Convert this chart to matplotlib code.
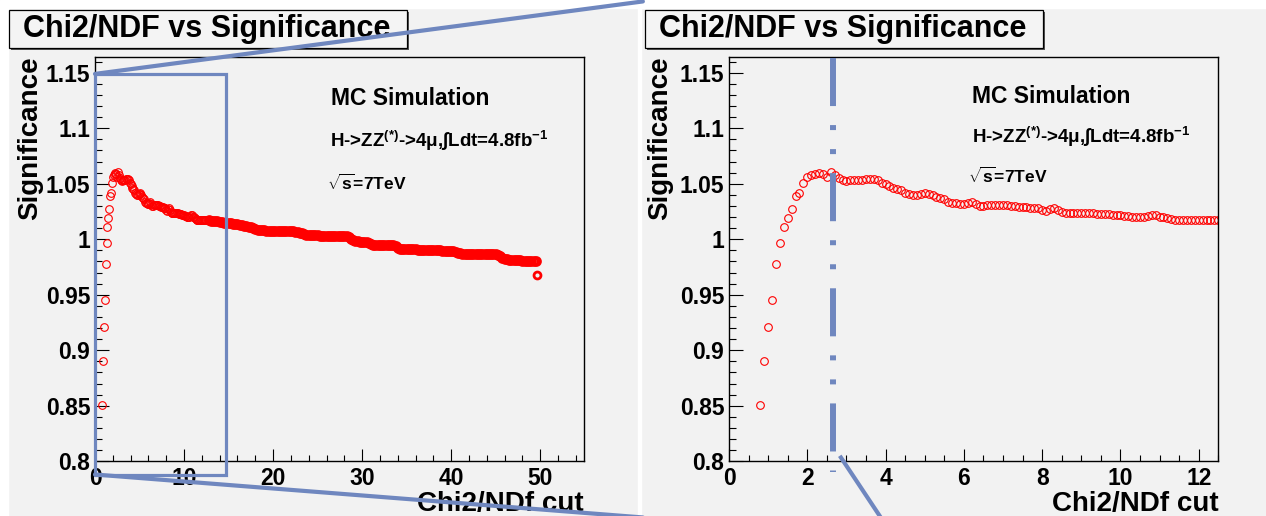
import numpy as np
import matplotlib
matplotlib.use('Agg')
import matplotlib.pyplot as plt
from matplotlib.patches import Rectangle, ConnectionPatch
from matplotlib.ticker import MultipleLocator, FuncFormatter

plt.rcParams['font.family'] = ['Liberation Sans', 'DejaVu Sans']
plt.rcParams['font.weight'] = 'bold'
plt.rcParams['axes.labelweight'] = 'bold'
plt.rcParams['mathtext.fontset'] = 'custom'
plt.rcParams['mathtext.rm'] = 'Liberation Sans:bold'
plt.rcParams['mathtext.it'] = 'Liberation Sans:italic:bold'
plt.rcParams['mathtext.bf'] = 'Liberation Sans:bold'
plt.rcParams['mathtext.default'] = 'regular'

# fine scan of the chi2/ndf cut (step 0.1)
cut_fine = np.round(np.arange(0.8, 12.55, 0.1), 2)
sig_fine = [
    0.851, 0.890, 0.921, 0.945, 0.978, 0.997, 1.011, 1.019, 1.027, 1.039,
    1.042, 1.051, 1.056, 1.058, 1.059, 1.0595, 1.059, 1.056, 1.061, 1.058,
    1.055, 1.053, 1.0525, 1.053, 1.053, 1.053, 1.0535, 1.054, 1.054, 1.054,
    1.053, 1.051, 1.050, 1.048, 1.046, 1.045, 1.044, 1.042, 1.041, 1.040,
    1.040, 1.041, 1.042, 1.041, 1.040, 1.038, 1.037, 1.036, 1.034, 1.033,
    1.0325, 1.032, 1.032, 1.033, 1.034, 1.032, 1.030, 1.030, 1.031, 1.031,
    1.031, 1.031, 1.031, 1.0305, 1.030, 1.030, 1.0295, 1.029, 1.029, 1.0285,
    1.028, 1.028, 1.026, 1.0255, 1.027, 1.028, 1.026, 1.0245, 1.024, 1.024,
    1.024, 1.024, 1.024, 1.024, 1.024, 1.0235, 1.023, 1.023, 1.023, 1.0225,
    1.022, 1.022, 1.022, 1.021, 1.021, 1.0205, 1.0205, 1.0205, 1.0205, 1.021,
    1.022, 1.0215, 1.0205, 1.020, 1.019, 1.018, 1.0175, 1.0175, 1.0175, 1.0175,
    1.0175, 1.0175, 1.0175, 1.0175, 1.017, 1.017, 1.017, 1.017,
]

# rest of the scan (every 0.25)
cut_tail = np.round(np.arange(12.75, 49.51, 0.25), 2)
sig_tail = [
    1.0170,
    1.0168, 1.0165, 1.0162, 1.0160, 1.0157, 1.0153, 1.0150, 1.0147,
    1.0145, 1.0142, 1.0140, 1.0137, 1.0133, 1.0130, 1.0125, 1.0120,
    1.0115, 1.0110, 1.0106, 1.0103, 1.0095, 1.0085, 1.0080, 1.0079,
    1.0079, 1.0078, 1.0078, 1.0077, 1.0077, 1.0076, 1.0076, 1.0075,
    1.0075, 1.0074, 1.0074, 1.0073, 1.0072, 1.0070, 1.0066, 1.0062,
    1.0058, 1.0055, 1.0050, 1.0040, 1.0036, 1.0035, 1.0035, 1.0034,
    1.0034, 1.0033, 1.0033, 1.0032, 1.0032, 1.0031, 1.0031, 1.0030,
    1.0028, 1.0027, 1.0026, 1.0026, 1.0025, 1.0025, 1.0020, 1.0000,
    0.9990, 0.9985, 0.9980, 0.9977, 0.9975, 0.9974, 0.9972, 0.9965,
    0.9955, 0.9952, 0.9951, 0.9950, 0.9950, 0.9950, 0.9949, 0.9949,
    0.9948, 0.9948, 0.9947, 0.9940, 0.9920, 0.9912, 0.9910, 0.9910,
    0.9910, 0.9909, 0.9909, 0.9908, 0.9908, 0.9907, 0.9907, 0.9906,
    0.9906, 0.9905, 0.9905, 0.9904, 0.9903, 0.9902, 0.9900, 0.9899,
    0.9898, 0.9897, 0.9896, 0.9895, 0.9893, 0.9890, 0.9885, 0.9878,
    0.9872, 0.9870, 0.9870, 0.9869, 0.9869, 0.9869, 0.9868, 0.9868,
    0.9868, 0.9867, 0.9867, 0.9867, 0.9866, 0.9866, 0.9865, 0.9865,
    0.9864, 0.9860, 0.9850, 0.9835, 0.9825, 0.9818, 0.9814, 0.9812,
    0.9810, 0.9810, 0.9809, 0.9809, 0.9808, 0.9808, 0.9806, 0.9805,
    0.9804, 0.9802, 0.9800,
]
last_cut = [49.6]
last_sig = [0.968]

# slide annotations
zoom_window = [0.0, 14.7, 0.788, 1.149]   # xmin, xmax, ymin, ymax on the full panel
best_cut = 2.66

title = 'Chi2/NDF vs Significance'
labels = ['MC Simulation',
          r'H->ZZ$^{(*)}$->4μ,∫Ldt=4.8fb$^{-1}$',
          r'$\sqrt{s}$=7TeV']

BG = '#f2f2f2'
BLUE = '#6f87bf'
W, H = 1266, 516

fig = plt.figure(figsize=(W / 100, H / 100), dpi=100, facecolor=BG)

# white slide margins
fig.patches.append(Rectangle((0, 1 - 8 / H), 1, 8 / H, transform=fig.transFigure, color='white', zorder=0))
fig.patches.append(Rectangle((0, 0), 8 / W, 1, transform=fig.transFigure, color='white', zorder=0))
fig.patches.append(Rectangle((638 / W, 0), 3 / W, 1, transform=fig.transFigure, color='white', zorder=0))

ax_full = fig.add_axes([95 / W, 54.8 / H, 488.5 / W, 404.5 / H])
ax_zoom = fig.add_axes([729 / W, 54.8 / H, 489.3 / W, 404.5 / H])


def style(ax, xmax, major, minor, ylab_x, txt_pos, tail_mew):
    ax.set_facecolor(BG)
    ax.set_xlim(0, xmax)
    ax.set_ylim(0.8, 1.1645)
    ax.xaxis.set_major_locator(MultipleLocator(major))
    ax.xaxis.set_minor_locator(MultipleLocator(minor))
    ax.yaxis.set_major_locator(MultipleLocator(0.05))
    ax.yaxis.set_minor_locator(MultipleLocator(0.01))
    fmt = FuncFormatter(lambda v, p: f'{v:g}')
    ax.xaxis.set_major_formatter(fmt)
    ax.yaxis.set_major_formatter(fmt)
    ax.tick_params(which='both', direction='in', top=False, right=False, width=0.8, labelsize=16.5)
    ax.tick_params(axis='y', which='major', length=10, pad=3.5)
    ax.tick_params(axis='y', which='minor', length=5)
    ax.tick_params(axis='x', which='major', length=9, pad=4)
    ax.tick_params(axis='x', which='minor', length=4.5)
    for s in ax.spines.values():
        s.set_linewidth(1.0)
    ax.set_ylabel('Significance', fontsize=20, loc='top')
    ax.yaxis.set_label_coords(ylab_x, 1.0)
    ax.set_xlabel('Chi2/NDf cut', fontsize=20, loc='right')
    ax.xaxis.set_label_coords(1.0, -0.074)
    ax.plot(cut_fine, sig_fine, 'o', ms=5.5, mfc='none', mec='red', mew=0.8)
    ax.plot(cut_tail, sig_tail, 'o', ms=5.5, mfc='none', mec='red', mew=tail_mew)
    ax.plot(last_cut, last_sig, 'o', ms=5.0, mfc='none', mec='red', mew=2.0)
    (x0, y0), (x1, y1), (x2, y2) = txt_pos
    ax.text(x0, y0, labels[0], transform=ax.transAxes, fontsize=16.5)
    ax.text(x1, y1, labels[1], transform=ax.transAxes, fontsize=13.5)
    ax.text(x2, y2, labels[2], transform=ax.transAxes, fontsize=12.5)


style(ax_full, 54.86, 10, 2, -0.107, [(0.483, 0.881), (0.482, 0.777), (0.475, 0.670)], 2.2)
style(ax_zoom, 12.5, 2, 0.5, -0.1145, [(0.496, 0.885), (0.496, 0.786), (0.488, 0.687)], 0.8)

# title boxes
for bx, tx in [(9, 23), (645, 659)]:
    fig.patches.append(Rectangle((bx / W + 2 / W, 1 - 50 / H), 398 / W, 38 / H, transform=fig.transFigure,
                                 fc='#555555', ec='none', zorder=1))
    fig.patches.append(Rectangle((bx / W, 1 - 48 / H), 398 / W, 38 / H, transform=fig.transFigure,
                                 fc='#f4f4f4', ec='black', lw=0.9, zorder=2))
    fig.text(tx / W, 1 - 37.5 / H, title, fontsize=22, va='baseline', zorder=3)

# zoom rectangle on the full-range panel
xa, xb, ya, yb = zoom_window
ax_full.add_patch(Rectangle((xa, ya), xb - xa, yb - ya, fill=False, ec=BLUE, lw=2.3, clip_on=False, zorder=10))

# connecting lines towards the zoomed panel
for ya_, yb_ in [(yb, 1.2143), (ya, 0.7493)]:
    con = ConnectionPatch(xyA=(xa, ya_), coordsA=ax_full.transData,
                          xyB=(-2.2, yb_), coordsB=ax_zoom.transData,
                          color=BLUE, lw=3, zorder=10)
    fig.add_artist(con)

# best cut marker on the zoomed panel
lw = 4.3
vline, = ax_zoom.plot([best_cut, best_cut], [1.163, 0.790], color=BLUE, lw=lw, clip_on=False, zorder=10,
                      solid_capstyle='butt')
vline.set_dashes([34.6 / lw, 13.7 / lw, 3.6 / lw, 13.7 / lw, 3.6 / lw, 13.7 / lw])
vline.set_dash_capstyle('butt')
ax_zoom.plot([2.86, 3.91], [0.8033, 0.7475], color=BLUE, lw=3, clip_on=False, zorder=10)

fig.savefig('out.png', dpi=100, facecolor=BG)
